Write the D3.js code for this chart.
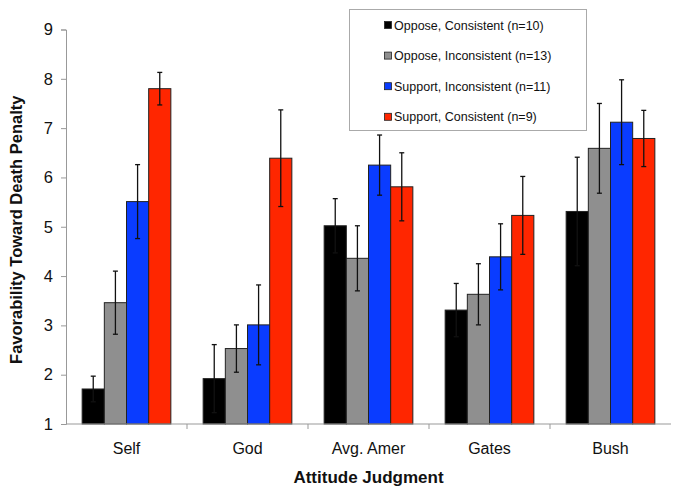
<!DOCTYPE html>
<html>
<head>
<meta charset="utf-8">
<script src="https://cdn.jsdelivr.net/npm/d3@7"></script>
<style>
  body { margin: 0; background: #fff; }
  svg { font-family: "Liberation Sans", Arial, sans-serif; }
</style>
</head>
<body>
<div id="chart"></div>
<script>
// Favorability toward death penalty by attitude judgment

const categories = ["Self", "God", "Avg. Amer", "Gates", "Bush"];
const seriesNames = [
    "Oppose, Consistent (n=10)",
    "Oppose, Inconsistent (n=13)",
    "Support, Inconsistent (n=11)",
    "Support, Consistent (n=9)"
];
const seriesColors = ["#000000", "#8f8f8f", "#0a3cff", "#ff2600"];

// means, one array per series (in category order)
const opposeConsistent = [1.71, 1.92, 5.02, 3.31, 5.31];
const opposeInconsistent = [3.46, 2.53, 4.36, 3.63, 6.59];
const supportInconsistent = [5.51, 3.01, 6.25, 4.39, 7.12];
const supportConsistent = [7.80, 6.39, 5.81, 5.23, 6.79];

// error bar half-widths
const opposeConsistentErr = [0.26, 0.69, 0.55, 0.54, 1.10];
const opposeInconsistentErr = [0.64, 0.48, 0.66, 0.62, 0.91];
const supportInconsistentErr = [0.75, 0.81, 0.61, 0.67, 0.86];
const supportConsistentErr = [0.33, 0.98, 0.69, 0.79, 0.57];

const yTicks = [1, 2, 3, 4, 5, 6, 7, 8, 9];

const means = [opposeConsistent, opposeInconsistent, supportInconsistent, supportConsistent];
const errs = [opposeConsistentErr, opposeInconsistentErr, supportInconsistentErr, supportConsistentErr];

const width = 676, height = 489;
const margin = { top: 29.5, right: 5, bottom: 65, left: 66 };
const innerW = width - margin.left - margin.right;
const innerH = height - margin.top - margin.bottom;

const svg = d3.select("#chart").append("svg")
    .attr("width", width)
    .attr("height", height);

const root = svg.append("g")
    .attr("transform", `translate(${margin.left},${margin.top})`);

const x0 = d3.scaleBand()
    .domain(categories)
    .range([0, innerW])
    .paddingInner(0.267)
    .paddingOuter(0.1335);

const x1 = d3.scaleBand()
    .domain(d3.range(seriesNames.length))
    .range([0, x0.bandwidth()]);

const y = d3.scaleLinear()
    .domain([1, 9])
    .range([innerH, 0]);

// bars
const groups = root.selectAll("g.cat")
    .data(categories)
    .join("g")
    .attr("class", "cat")
    .attr("transform", d => `translate(${x0(d)},0)`);

const cells = groups.selectAll("g.bar")
    .data((d, ci) => seriesNames.map((s, si) => ({ si, v: means[si][ci], e: errs[si][ci] })))
    .join("g")
    .attr("class", "bar");

cells.append("rect")
    .attr("x", d => x1(d.si))
    .attr("y", d => y(d.v))
    .attr("width", x1.bandwidth())
    .attr("height", d => y(1) - y(d.v))
    .attr("fill", d => seriesColors[d.si])
    .attr("stroke", "#222")
    .attr("stroke-width", 1);

// error bars
const cap = 2.5;
cells.append("line")
    .attr("x1", d => x1(d.si) + x1.bandwidth() / 2)
    .attr("x2", d => x1(d.si) + x1.bandwidth() / 2)
    .attr("y1", d => y(d.v - d.e))
    .attr("y2", d => y(d.v + d.e))
    .attr("stroke", "#111")
    .attr("stroke-width", 1.3);

cells.selectAll("line.cap")
    .data(d => [d.v - d.e, d.v + d.e].map(val => ({ si: d.si, val })))
    .join("line")
    .attr("class", "cap")
    .attr("x1", d => x1(d.si) + x1.bandwidth() / 2 - cap)
    .attr("x2", d => x1(d.si) + x1.bandwidth() / 2 + cap)
    .attr("y1", d => y(d.val))
    .attr("y2", d => y(d.val))
    .attr("stroke", "#111")
    .attr("stroke-width", 1.3);

// axes
const yAxis = root.append("g")
    .call(d3.axisLeft(y).tickValues(yTicks).tickSize(5).tickPadding(8).tickFormat(d3.format("d")));
yAxis.select(".domain").attr("stroke", "#999");
yAxis.selectAll(".tick line").attr("stroke", "#999");
yAxis.selectAll(".tick text")
    .attr("font-size", 16.5)
    .attr("fill", "#111");
yAxis.attr("font-family", null);

const xAxis = root.append("g")
    .attr("transform", `translate(0,${innerH})`);
xAxis.append("line")
    .attr("x1", 0).attr("x2", innerW)
    .attr("stroke", "#999");
const step = x0.step();
xAxis.selectAll("line.sep")
    .data(categories.slice(1))
    .join("line")
    .attr("class", "sep")
    .attr("x1", d => x0(d) - step * x0.paddingInner() / 2)
    .attr("x2", d => x0(d) - step * x0.paddingInner() / 2)
    .attr("y1", 0).attr("y2", 5)
    .attr("stroke", "#999");
xAxis.selectAll("text.cat")
    .data(categories)
    .join("text")
    .attr("class", "cat")
    .attr("x", d => x0(d) + x0.bandwidth() / 2)
    .attr("y", 30)
    .attr("text-anchor", "middle")
    .attr("font-size", 16)
    .attr("fill", "#111")
    .text(d => d);

// axis titles
root.append("text")
    .attr("x", innerW / 2)
    .attr("y", innerH + 59)
    .attr("text-anchor", "middle")
    .attr("font-size", 17)
    .attr("font-weight", "bold")
    .attr("fill", "#111")
    .text("Attitude Judgment");

root.append("text")
    .attr("transform", `translate(-44,${innerH / 2 + 3}) rotate(-90)`)
    .attr("text-anchor", "middle")
    .attr("font-size", 16.5)
    .attr("font-weight", "bold")
    .attr("fill", "#111")
    .text("Favorability Toward Death Penalty");

// legend
const legend = svg.append("g")
    .attr("transform", "translate(349.5,9.5)");
legend.append("rect")
    .attr("width", 237)
    .attr("height", 121)
    .attr("fill", "#fff")
    .attr("stroke", "#aaa")
    .attr("stroke-width", 1);

const items = legend.selectAll("g.item")
    .data(seriesNames)
    .join("g")
    .attr("class", "item")
    .attr("transform", (d, i) => `translate(35,${15.5 + i * 30.6})`);
items.append("rect")
    .attr("x", 0).attr("y", -3.5)
    .attr("width", 7).attr("height", 7)
    .attr("fill", (d, i) => seriesColors[i])
    .attr("stroke", "#222")
    .attr("stroke-width", 0.8);
items.append("text")
    .attr("x", 9.5)
    .attr("y", 4.5)
    .attr("font-size", 12.5)
    .attr("fill", "#111")
    .text(d => d);
</script>
</body>
</html>
